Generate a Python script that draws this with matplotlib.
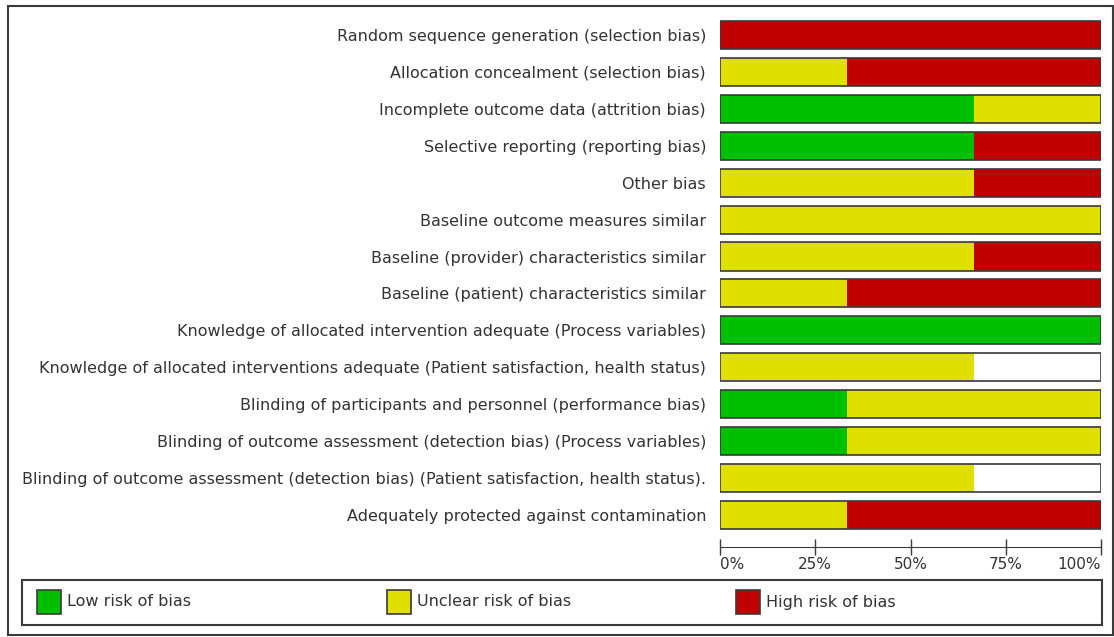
import matplotlib.pyplot as plt
from matplotlib.patches import Rectangle

W, H = 1114, 637

domains = [
    "Random sequence generation (selection bias)",
    "Allocation concealment (selection bias)",
    "Incomplete outcome data (attrition bias)",
    "Selective reporting (reporting bias)",
    "Other bias",
    "Baseline outcome measures similar",
    "Baseline (provider) characteristics similar",
    "Baseline (patient) characteristics similar",
    "Knowledge of allocated intervention adequate (Process variables)",
    "Knowledge of allocated interventions adequate (Patient satisfaction, health status)",
    "Blinding of participants and personnel (performance bias)",
    "Blinding of outcome assessment (detection bias) (Process variables)",
    "Blinding of outcome assessment (detection bias) (Patient satisfaction, health status).",
    "Adequately protected against contamination",
]
low = [0, 0, 66.7, 66.7, 0, 0, 0, 0, 100, 0, 33.3, 33.3, 0, 0]
unclear = [0, 33.3, 33.3, 0, 66.7, 100, 66.7, 33.3, 0, 66.7, 66.7, 66.7, 66.7, 33.3]
high = [100, 66.7, 0, 33.3, 33.3, 0, 33.3, 66.7, 0, 0, 0, 0, 0, 66.7]

levels = ["Low risk of bias", "Unclear risk of bias", "High risk of bias"]
colors = ["#00bf00", "#e0e000", "#c00000"]
ticks = [0, 25, 50, 75, 100]
tick_labels = ["0%", "25%", "50%", "75%", "100%"]

txt = "#333333"
edge = "#3a3a3a"


def fx(px):
    return px / W


def fy(py):
    return 1 - py / H


fig = plt.figure(figsize=(W / 100, H / 100), dpi=100)

# main bar axes: x 720..1101 px, y 14..547 px
ax = fig.add_axes([fx(720), fy(547), fx(1101) - fx(720), fy(14) - fy(547)])
y = list(range(len(domains)))
h = 0.76
left = [0] * len(domains)
for vals, c in zip([low, unclear, high], colors):
    ax.barh(y, vals, left=left, height=h, color=c, edgecolor="none")
    left = [a + b for a, b in zip(left, vals)]
ax.barh(y, [100] * len(domains), height=h, fill=False, edgecolor=edge, linewidth=1.2)

ax.set_xlim(0, 100)
ax.set_ylim(13.87, -0.57)
ax.set_yticks(y)
ax.set_yticklabels(domains, fontsize=11.5, color=txt)
ax.tick_params(axis="y", length=0, pad=10)
ax.set_xticks(ticks)
ax.set_xticklabels(tick_labels, fontsize=11, color=txt)
ax.tick_params(axis="x", direction="inout", length=12, width=1, color=edge, pad=1)
for lab, ha in zip(ax.get_xticklabels(), ["left", "center", "center", "center", "right"]):
    lab.set_horizontalalignment(ha)
for s in ["top", "left", "right"]:
    ax.spines[s].set_visible(False)
ax.spines["bottom"].set_color(edge)
ax.patch.set_visible(False)

# outer frame
fig.add_artist(Rectangle((fx(8), fy(635)), fx(1105), fy(6) - fy(635),
                         transform=fig.transFigure, fill=False, edgecolor=edge, linewidth=1.5))
# legend box
fig.add_artist(Rectangle((fx(22), fy(625)), fx(1080), fy(580) - fy(625),
                         transform=fig.transFigure, fill=False, edgecolor=edge, linewidth=1.5))
for x0, name, c in zip([37, 387, 736], levels, colors):
    fig.add_artist(Rectangle((fx(x0), fy(614)), fx(24), fy(590) - fy(614),
                             transform=fig.transFigure, facecolor=c, edgecolor=edge, linewidth=1.2))
    fig.text(fx(x0 + 30), fy(602), name, fontsize=11.5, color=txt, va="center", ha="left")

fig.savefig("out.png", dpi=100)
